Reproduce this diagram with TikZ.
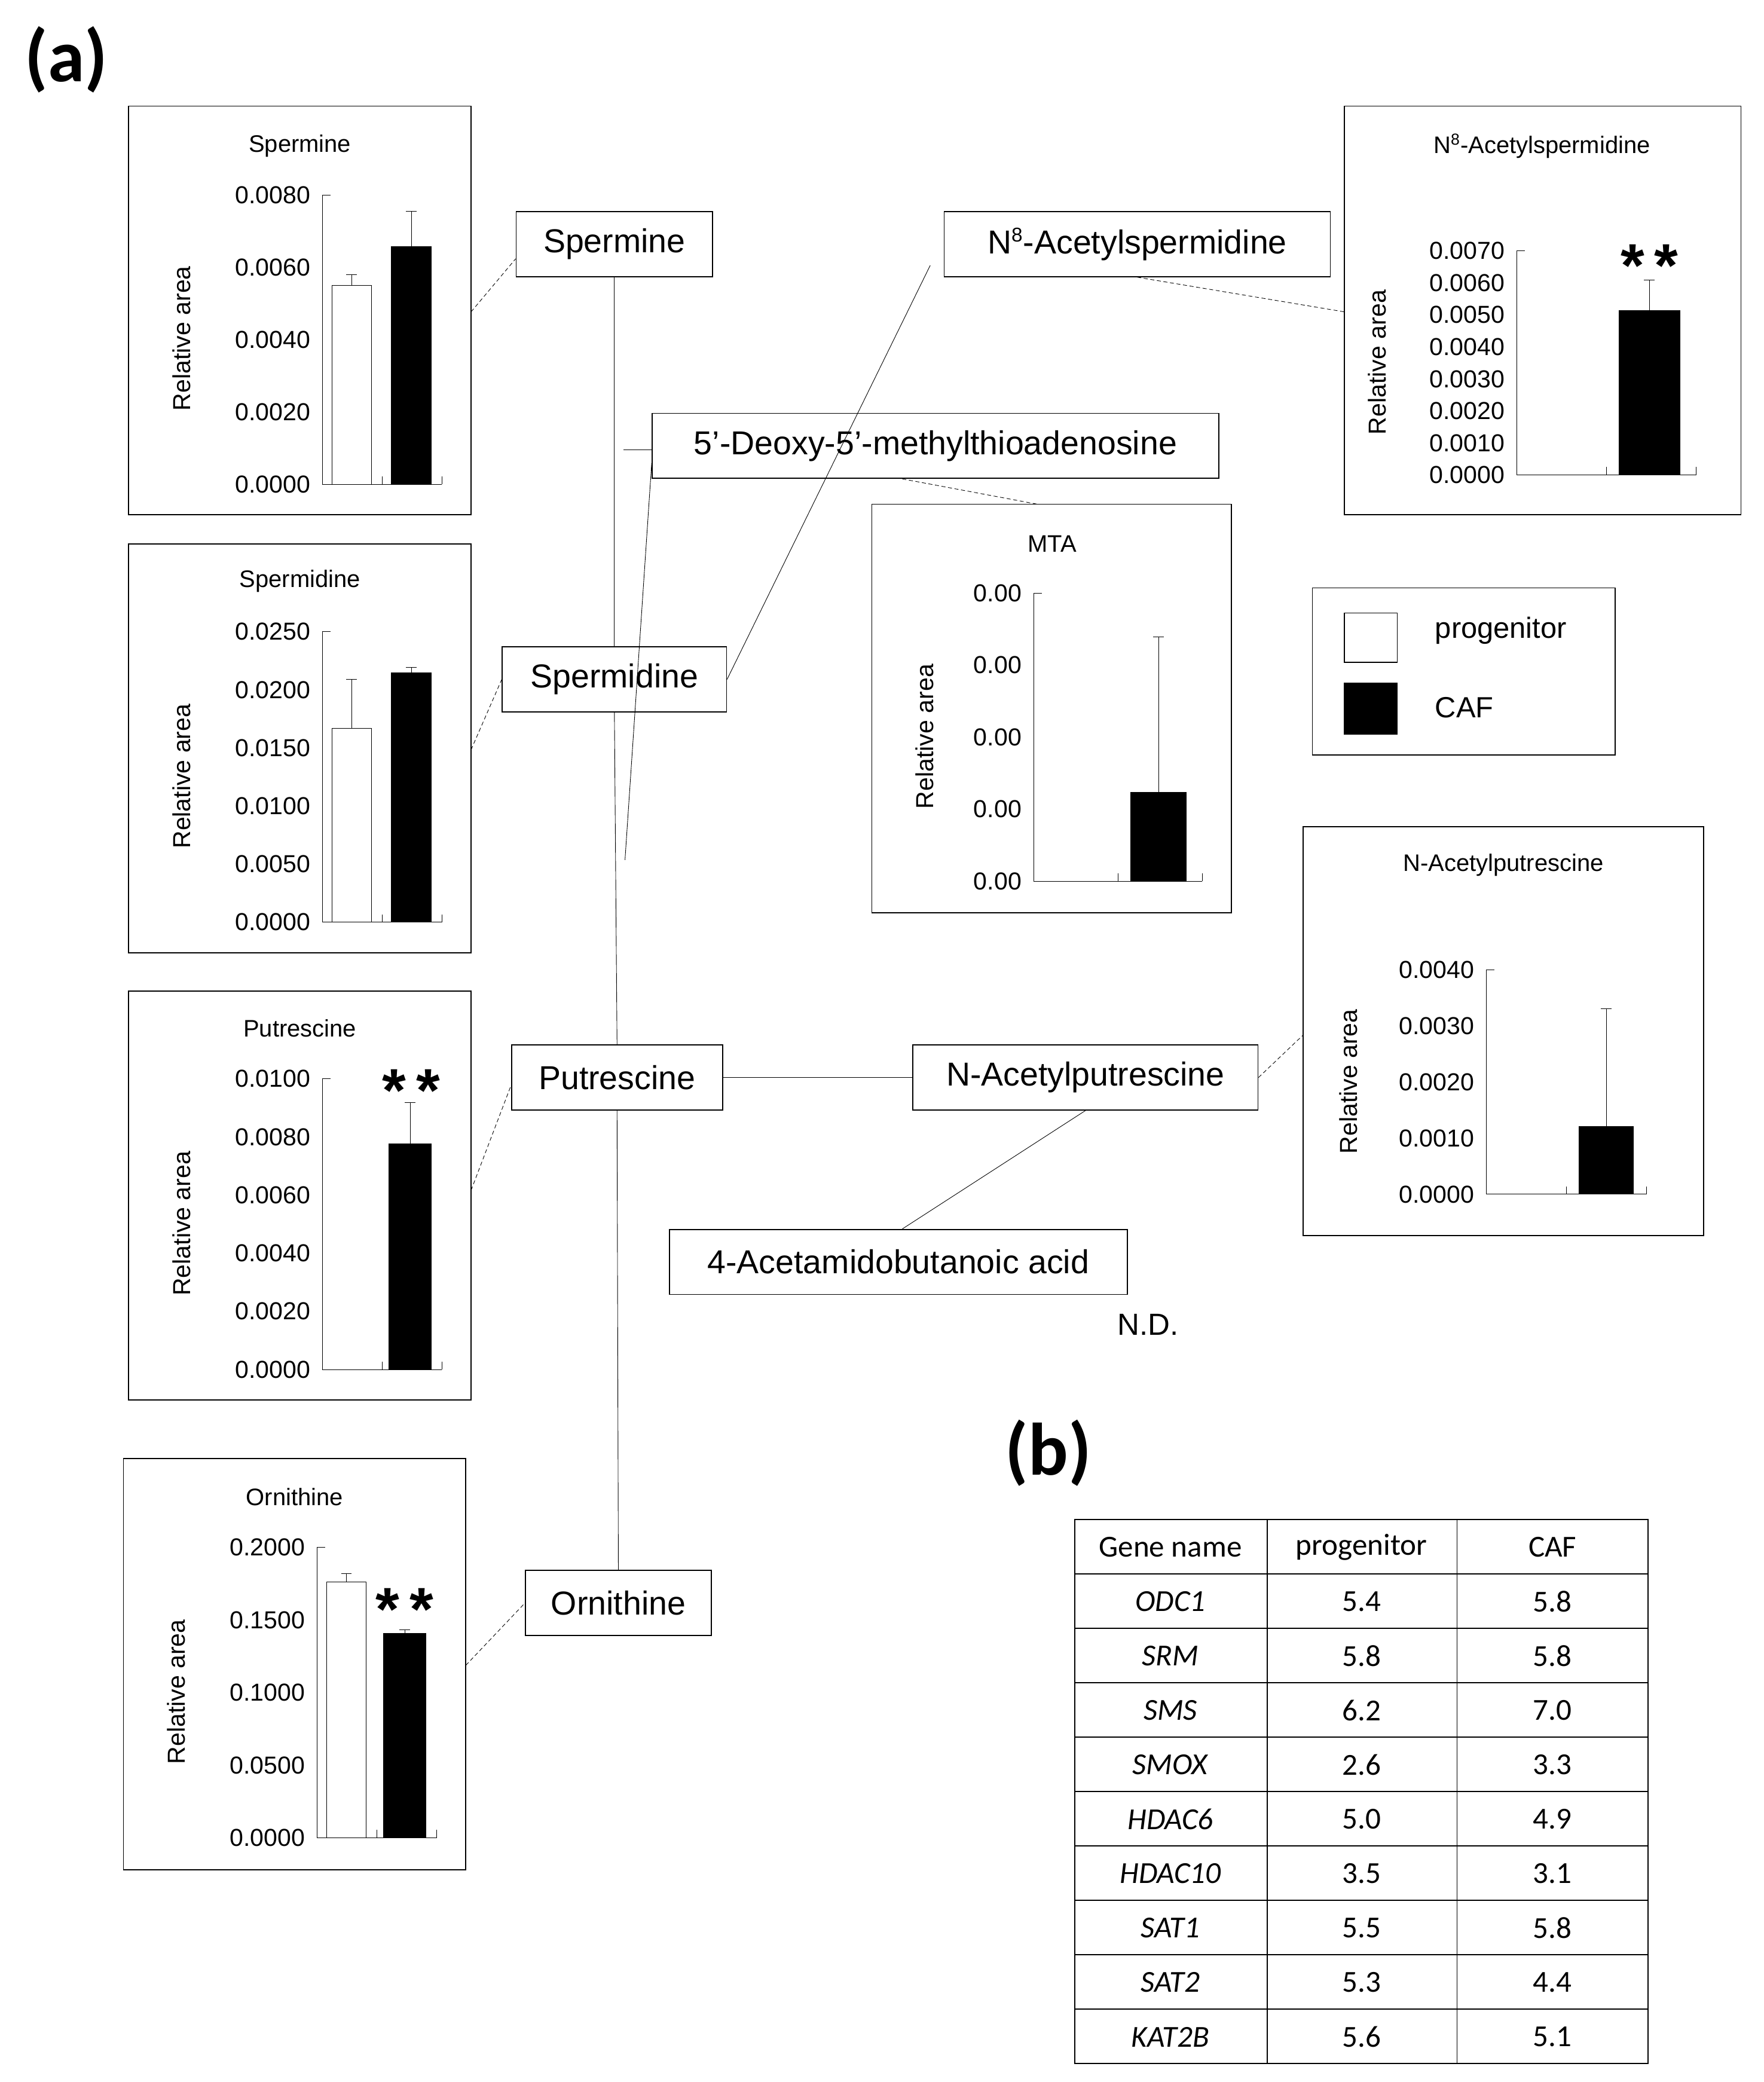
\documentclass[tikz,border=0pt]{standalone}
\usepackage{fontspec}
\setmainfont{Liberation Sans}
\newfontfamily\calfnt{Carlito}
\newcommand\myaxis[6]{%
 \draw (#1,#3)--(#1,#4)--(#2,#4);
 \draw (#1,#3)--(#1+6,#3);
 \draw ({(#1+#2)/2},#4)--({(#1+#2)/2},#4-6) (#2,#4)--(#2,#4-6);
 \foreach \l [count=\i from 0] in {#6} \node[lab,anchor=east] at (#1-8,#3+\i*#5) {\l};}
\newcommand\mybar[6]{%
 \draw[fill=#6] (#1,#3) rectangle (#2,#4);
 \draw ({(#1+#2)/2},#4)--({(#1+#2)/2},#5) ({(#1+#2)/2-4},#5)--({(#1+#2)/2+4},#5);}
\newcommand\sq{\char"0027}
\begin{document}
\begin{tikzpicture}[x=1pt,y=-1pt,
 lab/.style={font=\fontsize{18.5}{19}\selectfont,inner sep=1pt},
 ttl/.style={font=\fontsize{18}{19}\selectfont},
 cmp/.style={draw,thick,font=\fontsize{25}{26}\selectfont,minimum height=49pt,inner xsep=4pt},
 frame/.style={draw,thick},
 dsh/.style={densely dashed,thin},
 conn/.style={thin},
 ast/.style={font=\fontsize{46}{46}\selectfont\bfseries}]
\useasboundingbox (0,0) rectangle (1329,1569);
\node[font=\calfnt\fontsize{56}{56}\selectfont\bfseries] at (50,45) {(a)};
\node[font=\calfnt\fontsize{56}{56}\selectfont\bfseries] at (790,1095) {(b)};
% Spermine chart
\draw[frame] (97,80) rectangle (355,388);
\node[ttl] at (226,110) {Spermine};
\node[lab,rotate=90] at (137,255) {Relative area};
\myaxis{243}{333}{147}{365}{54.5}{0.0080,0.0060,0.0040,0.0020,0.0000}
\mybar{250}{280}{365}{215}{207}{white}
\mybar{295}{325}{365}{186}{159}{black}
% Spermidine chart
\draw[frame] (97,410) rectangle (355,718);
\node[ttl] at (226,438) {Spermidine};
\node[lab,rotate=90] at (137,585) {Relative area};
\myaxis{243}{333}{476}{695}{43.8}{0.0250,0.0200,0.0150,0.0100,0.0050,0.0000}
\mybar{250}{280}{695}{549}{512}{white}
\mybar{295}{325}{695}{507}{503}{black}
% Putrescine chart
\draw[frame] (97,747) rectangle (355,1055);
\node[ttl] at (226,775) {Putrescine};
\node[lab,rotate=90] at (137,922) {Relative area};
\myaxis{243}{333}{813}{1032}{43.8}{0.0100,0.0080,0.0060,0.0040,0.0020,0.0000}
\mybar{293}{325}{1032}{862}{831}{black}
\node[ast] at (310,822) {*\,*};
% Ornithine chart
\draw[frame] (93,1099) rectangle (351,1409);
\node[ttl] at (222,1128) {Ornithine};
\node[lab,rotate=90] at (133,1275) {Relative area};
\myaxis{239}{329}{1166}{1385}{54.75}{0.2000,0.1500,0.1000,0.0500,0.0000}
\mybar{246}{276}{1385}{1192}{1186}{white}
\mybar{289}{321}{1385}{1231}{1228}{black}
\node[ast] at (305,1213) {*\,*};
% N8 chart
\draw[frame] (1013,80) rectangle (1312,388);
\node[ttl] at (1162,110) {N\textsuperscript{\fontsize{12}{12}\selectfont 8}-Acetylspermidine};
\node[lab,rotate=90] at (1038,273) {Relative area};
\myaxis{1143}{1278}{189}{358}{24.14}{0.0070,0.0060,0.0050,0.0040,0.0030,0.0020,0.0010,0.0000}
\mybar{1220}{1266}{358}{234}{211}{black}
\node[ast] at (1243,200) {*\,*};
% MTA chart
\draw[frame] (657,380) rectangle (928,688);
\node[ttl] at (793,410) {MTA};
\node[lab,rotate=90] at (697,555) {Relative area};
\myaxis{779}{906}{447}{664}{54.25}{0.00,0.00,0.00,0.00,0.00}
\mybar{852}{894}{664}{597}{480}{black}
% N-Acetylputrescine chart
\draw[frame] (982,623) rectangle (1284,931);
\node[ttl] at (1133,652) {N-Acetylputrescine};
\node[lab,rotate=90] at (1016,815) {Relative area};
\myaxis{1120}{1241}{731}{900}{42.25}{0.0040,0.0030,0.0020,0.0010,0.0000}
\mybar{1190}{1231}{900}{849}{760}{black}
% legend
\draw[frame] (989,443) rectangle (1217,569);
\draw[thick] (1013,462) rectangle (1053,499);
\draw[thick,fill=black] (1013,515) rectangle (1053,553);
\node[font=\fontsize{22}{23}\selectfont,anchor=west] at (1078,475) {progenitor};
\node[font=\fontsize{22}{23}\selectfont,anchor=west] at (1078,533) {CAF};
% compounds
\node[cmp,minimum width=148pt] (spm) at (463,184) {Spermine};
\node[cmp,minimum width=291pt] (n8) at (857,184) {N\textsuperscript{\fontsize{15}{15}\selectfont 8}-Acetylspermidine};
\node[cmp,minimum width=427pt] (mta) at (705,336) {5\sq-Deoxy-5\sq-methylthioadenosine};
\node[cmp,minimum width=169pt] (spd) at (463,512) {Spermidine};
\node[cmp,minimum width=159pt] (put) at (465,812) {Putrescine};
\node[cmp,minimum width=260pt] (nap) at (818,812) {N-Acetylputrescine};
\node[cmp,minimum width=345pt] (aba) at (677,951) {4-Acetamidobutanoic acid};
\node[cmp,minimum width=140pt] (orn) at (466,1208) {Ornithine};
\node[font=\fontsize{23}{23}\selectfont] at (865,998) {N.D.};
% connectors
\coordinate (stub) at (470,339);
\coordinate (low) at (471,648);
\coordinate (n8end) at (701,200);
\draw[conn] (spm.south) -- (spd.north);
\draw[conn] (spd.south) -- (put.north);
\draw[conn] (put.south) -- (orn.north);
\draw[conn] (mta.west |- stub) -- (stub);
\draw[conn] ([yshift=-13pt]mta.west) -- (low);
\draw[conn] (spd.east) -- (n8end);
\draw[conn] (put.east) -- (nap.west);
\draw[conn] (nap.south) -- ([xshift=3pt]aba.north);
\coordinate (c1) at (355,235); \draw[dsh] (c1) -- ([yshift=-11pt]spm.west);
\coordinate (c2) at (355,565); \draw[dsh] (c2) -- (spd.west);
\coordinate (c3) at (355,897); \draw[dsh] (c3) -- ([yshift=-6pt]put.west);
\coordinate (c4) at (351,1255); \draw[dsh] (c4) -- (orn.west);
\coordinate (c5) at (1013,235); \draw[dsh] (n8.south) -- (c5);
\coordinate (c6) at (782,380); \draw[dsh] ([xshift=-25pt]mta.south) -- (c6);
\coordinate (c7) at (982,780); \draw[dsh] (nap.east) -- (c7);
% table
\draw[thick] (810,1145) rectangle (1242,1555);
\foreach \x in {955,1098} \draw[thick] (\x,1145)--(\x,1555);
\foreach \i in {1,...,9} \draw[thick] (810,1145+41*\i)--(1242,1145+41*\i);
\foreach \g/\p/\c [count=\i from 0] in {Gene name/progenitor/CAF,
 \textit{ODC1}/5.4/5.8,\textit{SRM}/5.8/5.8,\textit{SMS}/6.2/7.0,\textit{SMOX}/2.6/3.3,
 \textit{HDAC6}/5.0/4.9,\textit{HDAC10}/3.5/3.1,\textit{SAT1}/5.5/5.8,\textit{SAT2}/5.3/4.4,\textit{KAT2B}/5.6/5.1}{
 \node[font=\calfnt\fontsize{23}{23}\selectfont] at (882,1166+41*\i) {\g};
 \node[font=\calfnt\fontsize{23}{23}\selectfont] at (1026,1166+41*\i) {\p};
 \node[font=\calfnt\fontsize{23}{23}\selectfont] at (1170,1166+41*\i) {\c};}
\end{tikzpicture}
\end{document}
